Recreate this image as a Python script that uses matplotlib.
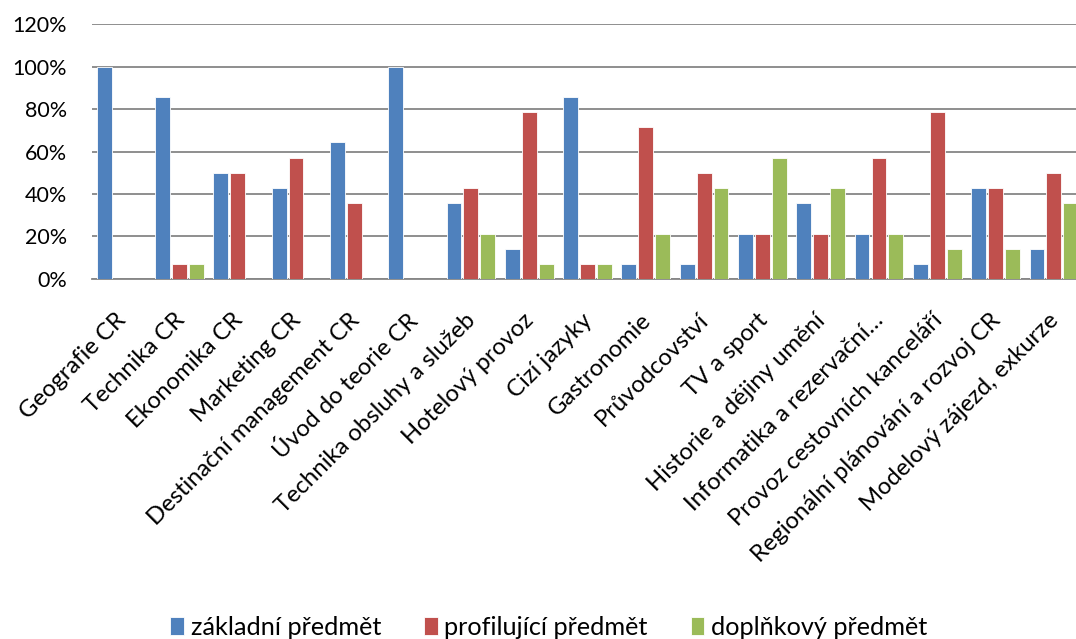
import numpy as np
import matplotlib
matplotlib.use("Agg")
import matplotlib.pyplot as plt
import matplotlib.transforms as mtrans
from matplotlib.ticker import PercentFormatter

plt.rcParams["font.family"] = ["Lato", "DejaVu Sans"]

BLUE, RED, GREEN = "#4F81BD", "#C0504D", "#9BBB59"

categories = ["Geografie CR", "Technika CR", "Ekonomika CR", "Marketing CR",
              "Destinační management CR", "Úvod do teorie CR",
              "Technika obsluhy a služeb", "Hotelový provoz", "Cizí jazyky",
              "Gastronomie", "Průvodcovství", "TV a sport",
              "Historie a dějiny umění", "Informatika a rezervační…",
              "Provoz cestovních kanceláří", "Regionální plánování a rozvoj CR",
              "Modelový zájezd, exkurze"]
zakladni = [1.000, 0.857, 0.500, 0.429, 0.643, 1.000, 0.357, 0.143, 0.857,
            0.071, 0.071, 0.214, 0.357, 0.214, 0.071, 0.429, 0.143]
profilujici = [0.000, 0.071, 0.500, 0.571, 0.357, 0.000, 0.429, 0.786, 0.071,
               0.714, 0.500, 0.214, 0.214, 0.571, 0.786, 0.429, 0.500]
doplnkovy = [0.000, 0.071, 0.000, 0.000, 0.000, 0.000, 0.214, 0.071, 0.071,
             0.214, 0.429, 0.571, 0.429, 0.214, 0.143, 0.143, 0.357]
series = [("základní předmět", zakladni, BLUE),
          ("profilující předmět", profilujici, RED),
          ("doplňkový předmět", doplnkovy, GREEN)]

fig = plt.figure(figsize=(10.76, 6.39), dpi=100)
ax = fig.add_axes([0.0855, 0.5634, 0.921, 0.399])

x = np.arange(len(categories))
w, step = 0.255, 0.29
for k, (name, vals, col) in enumerate(series):
    ax.bar(x + (k - 1) * step, vals, w, color=col, edgecolor="white",
           linewidth=0.6, label=name, zorder=3)

ax.set_xlim(-0.5, len(categories) - 0.5)
ax.set_ylim(0, 1.2)
ax.set_yticks(np.arange(0, 1.21, 0.2))
ax.yaxis.set_major_formatter(PercentFormatter(1.0, decimals=0))
ax.grid(axis="y", color="#868686", lw=1.3, zorder=0)
for s in ["left", "right", "top"]:
    ax.spines[s].set_visible(False)
ax.spines["bottom"].set_color("#868686")
ax.spines["bottom"].set_linewidth(1.3)
ax.tick_params(axis="y", length=0, pad=18, labelsize=15.5)
ax.tick_params(axis="x", length=0, pad=22, labelsize=17.2)
ax.set_xticks(x)
ax.set_xticklabels(categories, rotation=45, ha="right", va="top",
                   rotation_mode="anchor")
shift = mtrans.ScaledTranslation(-6 / 100, 0, fig.dpi_scale_trans)
for lab in ax.get_xticklabels():
    lab.set_transform(lab.get_transform() + shift)

h, l = ax.get_legend_handles_labels()
fig.legend(h, l, loc="center", bbox_to_anchor=(0.51, 0.018), ncol=3,
           frameon=False, fontsize=18.2, handlelength=0.55, handleheight=0.7,
           handletextpad=0.25, columnspacing=1.7)

fig.savefig("out.png", dpi=100)
